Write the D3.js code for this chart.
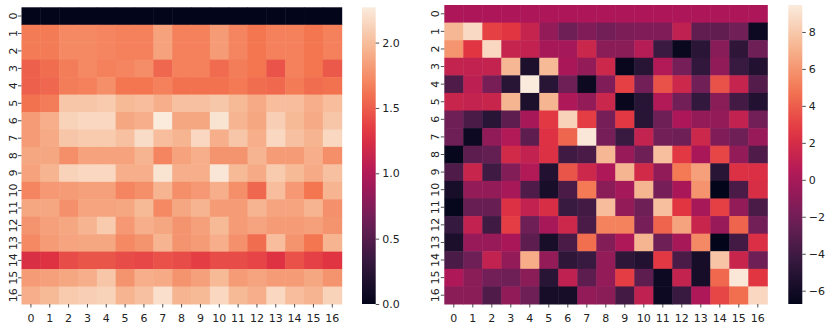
<!DOCTYPE html>
<html><head><meta charset="utf-8">
<script src="https://cdn.jsdelivr.net/npm/d3@7"></script>
<style>
html,body{margin:0;padding:0;background:#fff;}
svg{display:block;}
text{font-family:"DejaVu Sans",sans-serif;fill:#222;}
</style></head>
<body><svg id="c" width="830" height="326"></svg>
<script>
const rowLabels = d3.range(17).map(String);
const colLabels = d3.range(17).map(String);
const leftTicks = [0.0, 0.5, 1.0, 1.5, 2.0];
const rightTicks = [-6, -4, -2, 0, 2, 4, 6, 8];

const leftValues = [
 [0,0,0,0,0,0,0,0,0,0,0,0,0,0,0,0,0],
 [1.65,1.65,1.72,1.72,1.70,1.68,1.68,1.85,1.68,1.68,1.82,1.70,1.62,1.68,1.68,1.62,1.68],
 [1.65,1.65,1.72,1.72,1.70,1.68,1.68,1.85,1.68,1.68,1.82,1.70,1.62,1.68,1.68,1.62,1.68],
 [1.52,1.58,1.66,1.72,1.68,1.70,1.74,1.55,1.68,1.68,1.57,1.66,1.62,1.45,1.68,1.62,1.48],
 [1.52,1.55,1.66,1.68,1.75,1.62,1.62,1.68,1.60,1.60,1.60,1.64,1.58,1.56,1.65,1.58,1.60],
 [1.60,1.66,2.05,2.05,2.08,1.98,2.00,1.92,2.02,2.02,2.06,1.98,1.90,2.00,2.00,1.92,2.00],
 [1.82,1.92,2.12,2.15,2.15,1.88,1.92,2.27,1.88,1.88,2.22,1.95,1.88,2.10,1.98,1.90,2.05],
 [1.82,1.90,2.05,2.08,2.08,2.02,2.18,2.00,1.95,2.15,1.92,2.05,1.92,2.15,2.02,1.95,2.15],
 [1.88,1.88,1.75,1.85,1.85,1.85,1.95,1.70,1.85,1.92,1.78,1.78,1.95,1.82,1.82,1.92,1.75],
 [1.85,1.95,2.12,2.15,2.15,1.92,1.92,2.22,1.92,1.92,2.24,1.98,1.90,2.08,1.98,1.90,2.02],
 [1.70,1.80,1.82,1.84,1.84,1.70,1.75,1.95,1.75,1.80,1.92,1.75,1.55,2.00,1.80,1.62,1.95],
 [1.88,1.88,1.76,1.86,1.86,1.88,1.98,1.72,1.88,1.95,1.82,1.82,1.95,1.86,1.86,1.95,1.76],
 [1.78,1.84,1.88,1.95,2.08,1.80,1.92,1.88,1.78,1.84,1.98,1.82,1.86,1.82,1.82,1.84,1.78],
 [1.72,1.82,1.86,1.88,1.88,1.72,1.78,1.95,1.78,1.82,1.92,1.76,1.58,2.00,1.78,1.62,1.95],
 [1.25,1.28,1.42,1.46,1.46,1.42,1.40,1.44,1.42,1.35,1.42,1.42,1.38,1.28,1.44,1.36,1.30],
 [1.82,1.84,1.88,1.92,2.05,1.78,1.92,1.90,1.78,1.84,1.98,1.82,1.86,1.82,1.82,1.88,1.78],
 [1.92,1.98,2.08,2.10,2.12,1.95,2.02,2.20,1.95,1.98,2.15,1.98,1.92,2.15,2.00,1.95,2.12]
];

const rightValues = [
 [0.2,0.2,0.2,0.2,0.2,0.2,0.2,0.2,0.2,0.2,0.2,0.2,0.2,0.2,0.2,0.2,0.2],
 [7.3,8.7,3.0,2.6,1.3,-0.8,-2.2,-1.5,-2.0,-1.6,-1.5,-1.5,1.0,-2.7,-2.7,-2.1,-6.2],
 [6.0,2.6,8.6,1.3,1.1,0.0,-0.1,1.5,-1.1,-1.1,0.6,-4.2,-6.4,-4.9,-1.2,-4.7,-2.2],
 [1.2,1.1,1.2,7.3,-5.5,7.4,0.1,-0.8,1.6,-6.5,-5.0,0.4,-1.9,-4.6,-0.9,-4.3,-5.3],
 [-3.4,0.9,-1.8,-5.0,9.46,-5.0,-2.2,-6.3,-1.5,3.0,-2.0,3.6,1.6,-2.1,3.6,1.3,-3.2],
 [1.4,1.2,1.4,7.2,-5.5,7.2,0.3,-0.8,1.5,-6.5,-5.0,0.4,-2.0,-4.5,-1.1,-3.9,-5.3],
 [-2.2,-3.6,-5.0,-2.8,0.0,2.7,8.4,2.9,-1.9,2.7,-5.0,-2.2,0.2,-0.8,-0.8,1.1,-2.0],
 [-2.2,-6.2,-0.9,0.4,-2.8,2.4,4.3,9.3,-1.9,-4.3,1.2,-2.0,-2.2,1.6,-1.5,-2.2,-0.6],
 [-6.6,-2.8,-2.6,1.8,1.1,2.3,-4.0,-3.6,7.3,-0.6,-2.2,7.6,2.7,0.1,3.2,-0.8,-3.4],
 [-3.4,1.4,-4.0,-1.4,0.4,-5.3,3.7,1.6,0.3,7.2,1.8,-0.9,5.0,6.4,-5.0,2.3,2.2],
 [-5.7,-0.8,-0.8,0.0,-3.4,-5.7,-3.6,5.0,-1.1,-0.1,7.2,-1.9,0.1,5.9,-6.72,-3.6,2.1],
 [-6.6,-2.5,-2.5,2.3,1.1,2.1,-4.3,-3.9,7.5,-0.8,-2.2,7.6,2.6,0.0,3.0,-0.8,-3.6],
 [-4.4,1.1,-4.0,2.9,-2.2,0.0,1.6,-3.6,5.3,5.3,-1.9,4.2,6.5,1.4,-0.6,4.2,-2.0],
 [-5.6,-0.6,-0.6,0.1,-2.8,-5.7,-3.6,4.6,-1.4,0.3,7.2,-2.2,0.0,5.6,-6.7,-3.9,2.2],
 [-3.6,-2.2,1.1,-0.8,6.9,-0.8,-4.8,-4.3,-0.8,-4.8,-5.3,2.7,-3.6,-5.8,7.8,1.4,-2.2],
 [0.3,-1.1,-2.0,-2.2,-1.1,-5.0,1.0,-2.8,-0.8,2.9,-2.8,-6.2,1.2,-5.8,4.4,9.3,2.6],
 [-1.1,-1.1,-3.4,-0.9,-2.2,-5.8,-5.8,-0.8,-1.1,-3.9,1.0,-6.2,-4.3,0.3,3.2,4.6,8.6]
];

const rocket = d3.piecewise(d3.interpolateRgb, ["#03051a","#35193e","#701f57","#ad1759","#e13342","#f37651","#f6b48f","#faebdd"]);

const svg = d3.select("#c");
const FS = 11;

function heatmap(cfg){
  const {values, x0, x1, y0, y1, cb0, cb1, ticks, fmt, ylabOff} = cfg;
  const flat = values.flat();
  const ext = d3.extent(flat);
  const color = d3.scaleSequential(rocket).domain(ext);
  const x = d3.scaleBand().domain(colLabels).range([x0, x1]);
  const y = d3.scaleBand().domain(rowLabels).range([y0, y1]);
  const g = svg.append("g");
  values.forEach((row, i) => {
    g.selectAll(null).data(row).join("rect")
      .attr("x", (d, j) => x(colLabels[j]))
      .attr("y", y(rowLabels[i]))
      .attr("width", x.bandwidth() + 0.5)
      .attr("height", y.bandwidth() + 0.5)
      .attr("fill", d => color(d));
  });
  const ax = g.append("g").attr("transform", `translate(0,${y1})`)
    .call(d3.axisBottom(x).tickSize(3.5).tickPadding(3));
  ax.select(".domain").remove();
  ax.selectAll("text").attr("font-size", FS).attr("font-family", "DejaVu Sans").attr("fill", "#222")
    .attr("y", 17.5).attr("dy", "0");
  ax.selectAll("line").attr("stroke", "#222").attr("stroke-width", 0.8);
  const ay = g.append("g").attr("transform", `translate(${x0},0)`)
    .call(d3.axisLeft(y).tickSize(3.5).tickPadding(3));
  ay.select(".domain").remove();
  ay.selectAll("line").attr("stroke", "#222").attr("stroke-width", 0.8);
  ay.selectAll(".tick text")
    .attr("font-size", FS).attr("font-family", "DejaVu Sans").attr("fill", "#222")
    .attr("text-anchor", "middle")
    .attr("transform", `translate(${-ylabOff},0) rotate(-90)`)
    .attr("x", 0).attr("y", 0).attr("dy", "0.36em");
  // colorbar
  const cy = d3.scaleLinear().domain(ext).range([y1, y0]);
  const defs = svg.append("defs");
  const gid = "grad" + cfg.id;
  const grad = defs.append("linearGradient").attr("id", gid).attr("x1",0).attr("x2",0).attr("y1",1).attr("y2",0);
  d3.range(0, 1.0001, 0.05).forEach(t => grad.append("stop").attr("offset", t).attr("stop-color", rocket(t)));
  g.append("rect").attr("x", cb0).attr("y", y0).attr("width", cb1 - cb0).attr("height", y1 - y0).attr("fill", `url(#${gid})`);
  const ac = g.append("g").attr("transform", `translate(${cb1},0)`)
    .call(d3.axisRight(cy).tickValues(ticks).tickFormat(fmt).tickSize(3.5).tickPadding(3));
  ac.select(".domain").remove();
  ac.selectAll("line").attr("stroke", "#222").attr("stroke-width", 0.8);
  ac.selectAll("text").attr("font-size", FS).attr("font-family", "DejaVu Sans").attr("fill", "#222");
}

heatmap({id:1, values:leftValues, x0:21.5, x1:341.7, y0:7.3, y1:304, cb0:362, cb1:375.7, ticks:leftTicks, fmt:d3.format(".1f"), ylabOff:8.5});
heatmap({id:2, values:rightValues, x0:444.3, x1:767.3, y0:5, y1:304, cb0:788.3, cb1:802.3, ticks:rightTicks, fmt:d => d < 0 ? "\u2212" + Math.abs(d) : String(d), ylabOff:9});
</script></body></html>
